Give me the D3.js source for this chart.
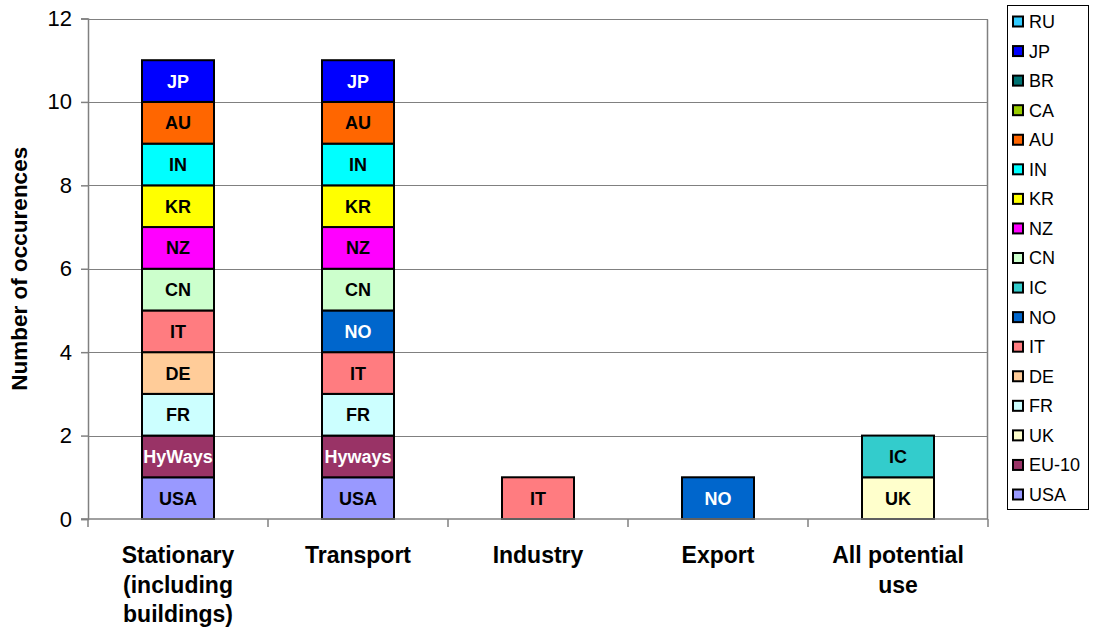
<!DOCTYPE html>
<html>
<head>
<meta charset="utf-8">
<script src="https://cdn.jsdelivr.net/npm/d3@7"></script>
<style>
  html, body { margin: 0; padding: 0; background: #fff; }
  svg { display: block; font-family: "Liberation Sans", Arial, sans-serif; }
</style>
</head>
<body>
<svg id="chart" width="1093" height="631"></svg>
<script>
// Uses of hydrogen named in national roadmaps
const categories = ["Stationary\n(including\nbuildings)", "Transport", "Industry", "Export", "All potential\nuse"];

// Series in stacking order (bottom to top); legend lists them top-down in reverse
const seriesNames = ["USA", "EU-10", "UK", "FR", "DE", "IT", "NO", "IC", "CN", "NZ", "KR", "IN", "AU", "CA", "BR", "JP", "RU"];
const seriesColors = ["#9999ff", "#993366", "#ffffcc", "#ccffff", "#ffcc99", "#ff7c80", "#0066cc", "#33cccc",
                      "#ccffcc", "#ff00ff", "#ffff00", "#00ffff", "#ff6600", "#99cc00", "#007373", "#0000ff", "#33ccff"];

// Occurrences per category for each series
const USA  = [1, 1, 0, 0, 0];
const EU10 = [1, 1, 0, 0, 0];
const UK   = [0, 0, 0, 0, 1];
const FR   = [1, 1, 0, 0, 0];
const DE   = [1, 0, 0, 0, 0];
const IT   = [1, 1, 1, 0, 0];
const NO   = [0, 1, 0, 1, 0];
const IC   = [0, 0, 0, 0, 1];
const CN   = [1, 1, 0, 0, 0];
const NZ   = [1, 1, 0, 0, 0];
const KR   = [1, 1, 0, 0, 0];
const IN   = [1, 1, 0, 0, 0];
const AU   = [1, 1, 0, 0, 0];
const CA   = [0, 0, 0, 0, 0];
const BR   = [0, 0, 0, 0, 0];
const JP   = [1, 1, 0, 0, 0];
const RU   = [0, 0, 0, 0, 0];

// The EU-10 segments carry the name of the study instead of the series name
const eu10Labels = ["HyWays", "Hyways", "", "", ""];

const yTicks = [0, 2, 4, 6, 8, 10, 12];
const whiteText = ["EU-10", "NO", "JP"];

const seriesValues = [USA, EU10, UK, FR, DE, IT, NO, IC, CN, NZ, KR, IN, AU, CA, BR, JP, RU];
const table = categories.map((c, i) => {
  const row = { category: c };
  seriesNames.forEach((s, k) => { row[s] = seriesValues[k][i]; });
  return row;
});

const svg = d3.select("#chart");
const plot = { left: 88, right: 988, top: 18.5, bottom: 519 };

const x = d3.scaleBand().domain(categories).range([plot.left, plot.right]).paddingInner(0.6).paddingOuter(0.3);
const y = d3.scaleLinear().domain([0, 12]).range([plot.bottom, plot.top]);
const color = d3.scaleOrdinal().domain(seriesNames).range(seriesColors);

// Gridlines
svg.append("g")
  .selectAll("line").data(yTicks.filter(t => t > 0)).join("line")
  .attr("x1", plot.left).attr("x2", plot.right)
  .attr("y1", d => Math.round(y(d)) + 0.5).attr("y2", d => Math.round(y(d)) + 0.5)
  .attr("stroke", "#808080").attr("stroke-width", 1);

// Right edge of the plot area
svg.append("line")
  .attr("x1", plot.right - 0.5).attr("x2", plot.right - 0.5)
  .attr("y1", Math.round(y(12)) + 0.5).attr("y2", plot.bottom)
  .attr("stroke", "#808080").attr("stroke-width", 1.5);

// Stacked bars
const stack = d3.stack().keys(seriesNames)(table);
const layers = svg.append("g").selectAll("g").data(stack).join("g")
  .attr("fill", d => color(d.key));

layers.selectAll("rect").data(d => d.filter(p => p[1] > p[0]).map(p => ({ p, key: d.key })))
  .join("rect")
  .attr("x", d => x(d.p.data.category))
  .attr("width", x.bandwidth())
  .attr("y", d => y(d.p[1]))
  .attr("height", d => y(d.p[0]) - y(d.p[1]))
  .attr("stroke", "#000").attr("stroke-width", 2);

// Segment labels
const labelData = [];
stack.forEach(layer => {
  layer.forEach((p, i) => {
    if (p[1] > p[0]) {
      const text = layer.key === "EU-10" ? eu10Labels[i] : layer.key;
      labelData.push({ key: layer.key, cat: p.data.category, mid: (p[0] + p[1]) / 2, text });
    }
  });
});
svg.append("g").selectAll("text").data(labelData).join("text")
  .attr("x", d => x(d.cat) + x.bandwidth() / 2)
  .attr("y", d => y(d.mid))
  .attr("dy", "0.36em")
  .attr("text-anchor", "middle")
  .attr("font-size", 18).attr("font-weight", "bold")
  .attr("fill", d => whiteText.includes(d.key) ? "#fff" : "#000")
  .text(d => d.text);

// Y axis
const yAxis = svg.append("g")
  .attr("transform", `translate(${plot.left},0)`)
  .call(d3.axisLeft(y).tickValues(yTicks).tickSize(7).tickPadding(9).tickFormat(d3.format("d")));
yAxis.select(".domain").attr("stroke", "#808080").attr("stroke-width", 1.5);
yAxis.selectAll(".tick line").attr("stroke", "#808080").attr("stroke-width", 1.5);
yAxis.selectAll(".tick text")
  .attr("font-size", 22).attr("font-family", "Liberation Sans, Arial, sans-serif").attr("fill", "#000");

// X axis: ticks sit on the category boundaries
const xAxisG = svg.append("g").attr("transform", `translate(0,${plot.bottom})`);
xAxisG.append("line")
  .attr("x1", plot.left - 7).attr("x2", plot.right)
  .attr("stroke", "#808080").attr("stroke-width", 1.5);
const step = x.step();
xAxisG.selectAll("line.tk").data(d3.range(categories.length + 1)).join("line")
  .attr("class", "tk")
  .attr("x1", i => plot.left + i * step).attr("x2", i => plot.left + i * step)
  .attr("y1", 0).attr("y2", 8)
  .attr("stroke", "#808080").attr("stroke-width", 1.5);

const catLabels = xAxisG.selectAll("text.cat").data(categories).join("text")
  .attr("class", "cat")
  .attr("text-anchor", "middle")
  .attr("font-size", 23).attr("font-weight", "bold").attr("fill", "#000");
catLabels.each(function (c) {
  const lines = c.split("\n");
  d3.select(this).selectAll("tspan").data(lines).join("tspan")
    .attr("x", x(c) + x.bandwidth() / 2)
    .attr("y", (d, i) => 44 + i * 29.5)
    .text(d => d);
});

// Y axis title
svg.append("text")
  .attr("transform", `translate(27,${(plot.top + plot.bottom) / 2}) rotate(-90)`)
  .attr("text-anchor", "middle")
  .attr("font-size", 22.5).attr("font-weight", "bold")
  .text("Number of occurences");

// Legend
const legend = svg.append("g");
legend.append("rect")
  .attr("x", 1007.5).attr("y", 5.5).attr("width", 81).attr("height", 504)
  .attr("fill", "#fff").attr("stroke", "#000").attr("stroke-width", 1);
const legendItems = seriesNames.slice().reverse();
const ly = d3.scalePoint().domain(legendItems).range([21.5, 494.5]);
const li = legend.selectAll("g.item").data(legendItems).join("g")
  .attr("class", "item")
  .attr("transform", d => `translate(0,${ly(d)})`);
li.append("rect")
  .attr("x", 1013).attr("y", -5).attr("width", 10).attr("height", 10)
  .attr("fill", d => color(d)).attr("stroke", "#000").attr("stroke-width", 2);
li.append("text")
  .attr("x", 1029).attr("y", 0).attr("dy", "0.36em")
  .attr("font-size", 18).attr("fill", "#000")
  .text(d => d);
</script>
</body>
</html>
